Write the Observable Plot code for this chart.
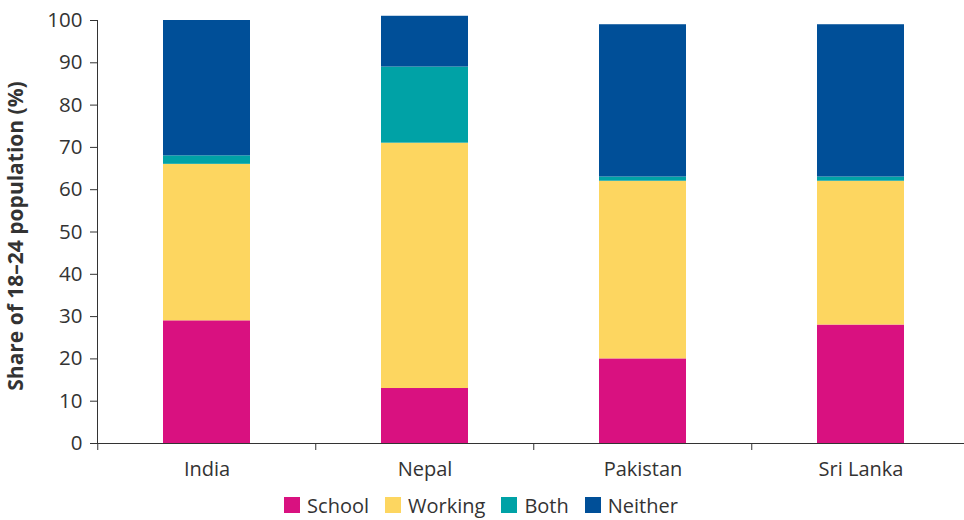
<!DOCTYPE html>
<html>
<head>
<meta charset="utf-8">
<script src="https://cdn.jsdelivr.net/npm/d3@7"></script>
<script src="https://cdn.jsdelivr.net/npm/@observablehq/plot@0.6"></script>
<style>
  body { margin: 0; background: #fff; font-family: "Open Sans", sans-serif; color: #333; }
  #legend { display: flex; justify-content: center; align-items: center; height: 30px; font-size: 20px; margin-left: -2px; }
  #legend .item { display: flex; align-items: center; margin: 0 8px; }
  #legend .sw { width: 16px; height: 16px; margin-right: 7px; }
</style>
</head>
<body>
<div id="chart"></div>
<div id="legend"></div>
<script>
const categories = ["India", "Nepal", "Pakistan", "Sri Lanka"];
const series = ["School", "Working", "Both", "Neither"];
const school  = [29, 13, 20, 28];
const working = [37, 58, 42, 34];
const both    = [2, 18, 1, 1];
const neither = [32, 12, 36, 36];
const colors = ["#D91180", "#FDD660", "#00A2A6", "#004F98"];
const yTicks = [0, 10, 20, 30, 40, 50, 60, 70, 80, 90, 100];

const valuesBySeries = [school, working, both, neither];
const data = categories.flatMap((c, i) =>
  series.map((s, j) => ({country: c, status: s, value: valuesBySeries[j][i]}))
);

const W = 964, H = 490;
const mL = 97, mT = 20, mB = 47;
const xRange = [97, 971];
const step = (xRange[1] - xRange[0]) / categories.length;

const chart = Plot.plot({
  width: W,
  height: H,
  marginLeft: mL,
  marginRight: 0,
  marginTop: mT,
  marginBottom: mB,
  style: {fontFamily: "'Open Sans', sans-serif", fontSize: "20px", color: "#333", background: "#fff", overflow: "visible"},
  x: {domain: categories, range: xRange, paddingInner: 0.6, paddingOuter: 0.3, align: 0.5},
  y: {domain: [0, 100]},
  color: {domain: series, range: colors},
  marks: [
    Plot.barY(data, {x: "country", y: "value", fill: "status"}),
    Plot.axisY({ticks: yTicks, tickSize: 7, tickPadding: 8, stroke: "#333", fontSize: 20.5, label: "Share of 18–24 population (%)", labelAnchor: "center", labelArrow: "none", labelOffset: 89}),
    Plot.axisX({tickSize: 0, tickPadding: 18, fontSize: 20, label: null}),
    Plot.ruleX(categories, {x: d => d, y1: 0, y2: 0, dx: -step / 2, insetBottom: -7, stroke: "#333"}),
    Plot.frame({anchor: "left", stroke: "#333"}),
    Plot.ruleY([0], {stroke: "#333"})
  ]
});
document.getElementById("chart").appendChild(chart);
// make axis title bold
chart.querySelectorAll("text").forEach(t => {
  if (t.textContent.startsWith("Share of")) { t.setAttribute("font-weight", "bold"); t.style.fontWeight = "bold"; t.style.fontSize = "21px"; t.setAttribute("dx", "-4"); }
});

const legend = document.getElementById("legend");
series.forEach((s, i) => {
  const item = document.createElement("div");
  item.className = "item";
  const sw = document.createElement("div");
  sw.className = "sw";
  sw.style.background = colors[i];
  const lbl = document.createElement("span");
  lbl.textContent = s;
  item.appendChild(sw);
  item.appendChild(lbl);
  legend.appendChild(item);
});
</script>
</body>
</html>
